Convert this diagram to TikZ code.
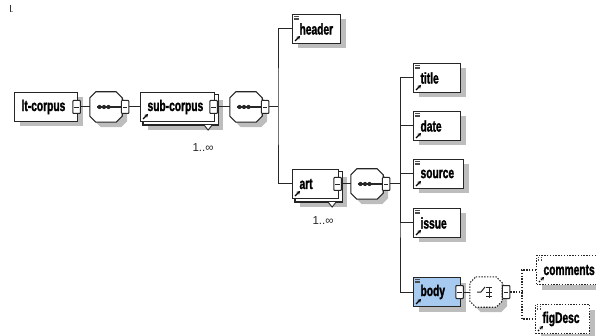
\documentclass[tikz,border=0pt]{standalone}
\usepackage{fontspec}
\setmainfont{Liberation Sans}
\newfontfamily\elfont{Liberation Sans}[FakeStretch=0.66, BoldFeatures={FakeBold=1.5}]
\usetikzlibrary{shadows,arrows.meta,calc}
\pgfdeclarelayer{background}
\pgfsetlayers{background,main}
\definecolor{shad}{gray}{0.74}
\definecolor{bodyblue}{RGB}{166,202,240}
\definecolor{ln}{gray}{0.15}
\newcommand\octshape[3]{([xshift=6pt+#2,yshift=#3]#1.north west) -- ([xshift=-6pt+#2,yshift=#3]#1.north east) -- ([xshift=#2,yshift=-6pt+#3]#1.north east) -- ([xshift=#2,yshift=6pt+#3]#1.south east) -- ([xshift=-6pt+#2,yshift=#3]#1.south east) -- ([xshift=6pt+#2,yshift=#3]#1.south west) -- ([xshift=#2,yshift=6pt+#3]#1.south west) -- ([xshift=#2,yshift=-6pt+#3]#1.north west) -- cycle}
\tikzset{
  conn/.style={draw=ln, line width=1pt},
  dconn/.style={draw=ln, line width=1.1pt, dash pattern=on 1.4pt off 1.4pt},
  elembase/.style={rectangle, draw=ln, line width=1.1pt, fill=white, anchor=west,
    minimum height=29pt, inner xsep=7pt, inner ysep=0pt, align=left,
    font={\elfont\bfseries\fontsize{15.5pt}{15.5pt}\selectfont}},
  elem/.style={elembase, drop shadow={shadow xshift=5pt, shadow yshift=-5pt, fill=shad, opacity=1}},
  stack/.style={elembase},
  dashelem/.style={elem, dash pattern=on 1.4pt off 1.4pt},
  icoarrow/.style={path picture={
    \draw[black, line width=1.2pt, -{Stealth[length=3.4pt,width=3.8pt]}]
      ([xshift=2.5pt,yshift=2.5pt]path picture bounding box.south west) -- ++(5pt,5pt);}},
  icoboth/.style={path picture={
    \draw[black, line width=1.2pt, -{Stealth[length=3.4pt,width=3.8pt]}]
      ([xshift=2.5pt,yshift=2.5pt]path picture bounding box.south west) -- ++(5pt,5pt);
    \foreach \k in {1.8,3.4,5.0}
      \draw[gray!60!black, line width=0.65pt]
        ([xshift=1.5pt,yshift=-\k pt]path picture bounding box.north west) -- ++(4.5pt,0pt);}},
  octph/.style={rectangle, draw=none, minimum width=32pt, minimum height=30pt, inner sep=0pt},
  mbox/.style={rectangle, draw=ln, line width=1pt, fill=white, minimum width=7.5pt,
    minimum height=13pt, inner sep=0pt, rounded corners=0.8pt,
    path picture={\draw[ln, line width=0.9pt]
      ([xshift=1.6pt]path picture bounding box.west) -- ([xshift=-1.6pt]path picture bounding box.east);}},
  mult/.style={font={\fontsize{11.5pt}{13pt}\selectfont}, inner sep=0pt, text=ln}
}
\begin{document}
\begin{tikzpicture}[x=1pt,y=-1pt]
\useasboundingbox (0,0) rectangle (596,336);
% tiny corner mark
\draw[black!80, line width=0.7pt] (10,5) -- (10,12);
\fill[gray!70] (10.5,11) rectangle (13,12.5);

% element boxes
\node[elem, text width=49pt] (lt) at (14,107) {lt-corpus};
\node[stack, icoarrow, text width=60pt] (sub) at (140,107) {sub-corpus};
\node[elem, icoboth, text width=34pt] (header) at (292,29) {header};
\node[stack, icoarrow, text width=32pt] (art) at (292,184) {art};
\node[elem, icoboth, text width=33pt] (title) at (413,78) {title};
\node[elem, icoboth, text width=33pt] (date) at (413,126) {date};
\node[elem, icoboth, text width=36pt] (source) at (413,174) {source};
\node[elem, icoboth, text width=33pt] (issue) at (413,223) {issue};
\node[elem, icoboth, fill=bodyblue, text width=33pt] (body) at (413,292) {body};
\node[dashelem, icoboth, text width=60pt] (comments) at (536,270) {comments};
\node[dashelem, icoboth, text width=40pt] (figDesc) at (535,319) {figDesc};

% stacked copies (behind)
\begin{pgfonlayer}{background}
  \foreach \n in {sub,art}{
    \fill[shad] ([xshift=8pt,yshift=-8pt]\n.north west) rectangle ([xshift=8pt,yshift=-8pt]\n.south east);
    \draw[ln, line width=1.1pt, fill=white] ([xshift=3pt,yshift=-3pt]\n.north west) rectangle ([xshift=3pt,yshift=-3pt]\n.south east);
    \draw[ln, line width=0.9pt, fill=white] ([xshift=-11pt,yshift=-3pt]\n.south east) -- ([xshift=-7pt,yshift=-8pt]\n.south east) -- ([xshift=-3pt,yshift=-3pt]\n.south east);
  }
\end{pgfonlayer}
\node[mult] (subm) at (203,148) {1..∞};
\node[mult] (artm) at (323,221) {1..∞};

% sequence / choice compositors
\node[octph] (s1) at (106,107) {};
\node[octph] (s2) at (246,107) {};
\node[octph] (s3) at (367,184) {};
\node[octph] (ch) at (486,292) {};
\foreach \s in {s1,s2,s3}{
  \fill[shad] \octshape{\s}{5pt}{-5pt};
  \draw[ln, line width=1.1pt, fill=white] \octshape{\s}{0pt}{0pt};
  \draw[ln, line width=1.1pt] ([xshift=7pt]\s.west) -- (\s.east);
  \foreach \d in {-6.5,-2,2.5} \fill[ln] ([xshift=\d pt]\s.center) circle (2.1pt);
}
\fill[shad] \octshape{ch}{5pt}{-5pt};
\draw[ln, line width=1.1pt, fill=white, dash pattern=on 1.4pt off 1.4pt] \octshape{ch}{0pt}{0pt};
\draw[ln, line width=1pt] ([xshift=-9pt]ch.center) -- ([xshift=-5pt]ch.center) -- ([xshift=-1pt,yshift=5pt]ch.center);
\draw[ln, line width=1pt] ([xshift=3pt,yshift=5.5pt]ch.center) -- ([xshift=3pt,yshift=-5.5pt]ch.center);
\foreach \yy in {4.5,0,-4.5}
  \draw[ln, line width=1pt] ([xshift=0pt,yshift=\yy pt]ch.center) -- ([xshift=6pt,yshift=\yy pt]ch.center);

% collapse squares
\node[mbox] (ltm) at ([xshift=-1.5pt]lt.east) {};
\node[mbox] (subsq) at ([xshift=-1.5pt]sub.east) {};
\node[mbox] (artsq) at ([xshift=-1.5pt]art.east) {};
\node[mbox] (bodysq) at ([xshift=-1.5pt]body.east) {};
\node[mbox] (s1m) at ([xshift=3pt]s1.east) {};
\node[mbox] (s2m) at ([xshift=3pt]s2.east) {};
\node[mbox] (s3m) at ([xshift=3pt]s3.east) {};
\node[mbox] (chm) at ([xshift=4pt]ch.east) {};

% junctions
\coordinate (j1) at (278,107);
\coordinate (j2) at (400,184);
\coordinate (j3) at (522,292);

% connectors
\draw[conn] (ltm) -- (s1);
\draw[conn] (s1m) -- (sub);
\draw[conn] (subsq) -- (s2);
\draw[conn] (s2m) -- (j1);
\draw[conn] (header.west) -| (j1) |- (art.west);
\draw[conn] (artsq) -- (s3);
\draw[conn] (s3m) -- (j2);
\draw[conn] (title.west) -| (j2) |- (body.west);
\draw[conn] (date.west) -| (j2);
\draw[conn] (source.west) -| (j2);
\draw[conn] (issue.west) -| (j2);
\draw[conn] (bodysq) -- (ch);
\draw[dconn] (chm) -- (j3);
\draw[dconn] (comments.west) -| (j3) |- (figDesc.west);
\end{tikzpicture}
\end{document}
